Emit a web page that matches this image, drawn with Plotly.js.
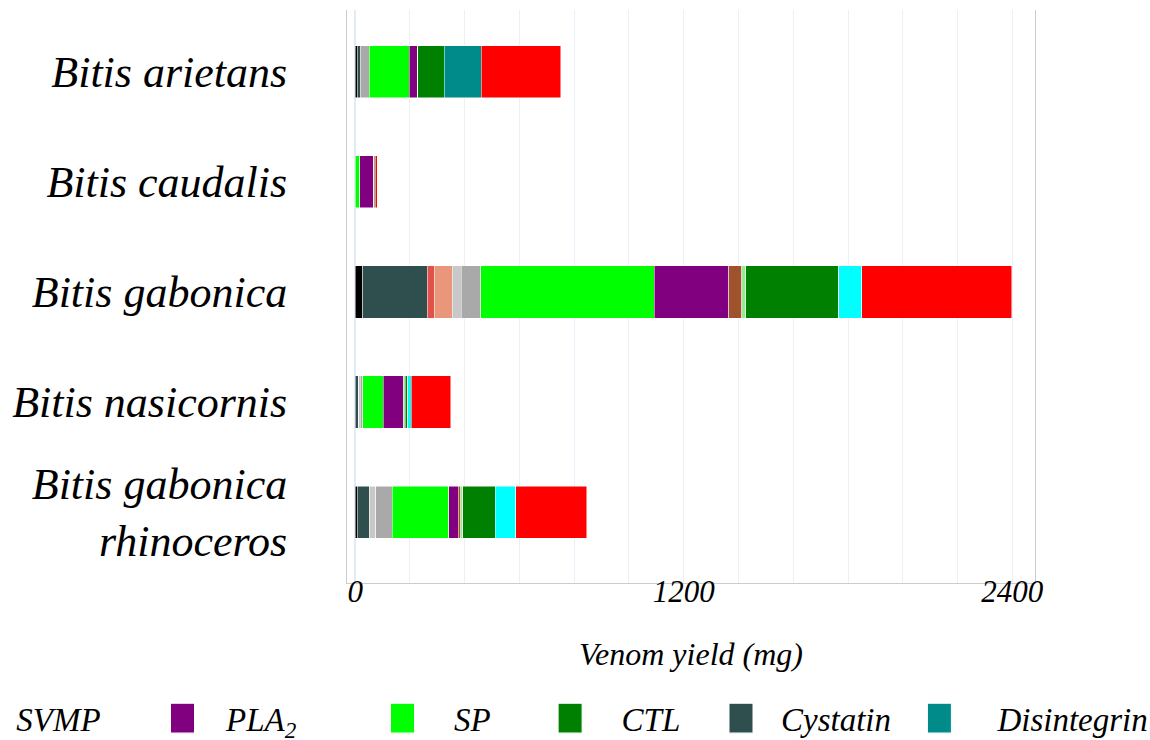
<!DOCTYPE html>
<html>
<head>
<meta charset="utf-8">
<script src="https://cdn.plot.ly/plotly-3.0.1.min.js"></script>
<style>
  html, body { margin: 0; padding: 0; background: #fff; }
  #chart { width: 1150px; height: 740px; }
</style>
</head>
<body>
<div id="chart"></div>
<script>
// ---------------- data ----------------
const species = ['Bitis arietans', 'Bitis caudalis', 'Bitis gabonica', 'Bitis nasicornis', 'Bitis gabonica rhinoceros'];
const speciesLabels = ['Bitis arietans', 'Bitis caudalis', 'Bitis gabonica', 'Bitis nasicornis', 'Bitis gabonica<br>rhinoceros'];

// venom yield (mg) per toxin family, in stacking order
const unknownYield     = [8, 0, 28, 0, 8];
const cystatinYield    = [10, 0, 236, 13, 43];
const laaoYield        = [0, 0, 24, 0, 0];
const kunYield         = [0, 0, 66, 0, 0];
const crispYield       = [0, 0, 33, 6, 24];
const vegfYield        = [34, 0, 71, 9, 61];
const spYield          = [146, 16, 634, 75, 206];
const pla2Yield        = [30, 51, 273, 72, 35];
const ngfYield         = [0, 0, 46, 0, 9];
const pdeYield         = [0, 3, 15, 7, 7];
const ctlYield         = [97, 3, 341, 10, 119];
const disintegrinYield = [136, 0, 0, 0, 0];
const dcYield          = [0, 0, 84, 13, 74];
const svmpYield        = [289, 8, 547, 144, 259];

const familyNames = ['Unknown', 'Cystatin', 'LAAO', 'KUN', 'CRISP', 'VEGF', 'SP', 'PLA<sub>2</sub>', 'NGF', 'PDE', 'CTL', 'Disintegrin', 'DC', 'SVMP'];
const familyValues = [unknownYield, cystatinYield, laaoYield, kunYield, crispYield, vegfYield, spYield, pla2Yield, ngfYield, pdeYield, ctlYield, disintegrinYield, dcYield, svmpYield];
const familyColors = ['#000000', '#2F4F4F', '#E0524B', '#E9967A', '#C8C8C8', '#A9A9A9', '#00FF00', '#800080', '#A0522D', '#90EE90', '#008000', '#008B8B', '#00FFFF', '#FF0000'];

const xTickVals = [0, 1200, 2400];
const xTickText = ['0', '1200', '2400'];

// ---------------- layout helpers ----------------
const FONT = 'Liberation Serif, Times New Roman, serif';
const PLOT_L = 347, PLOT_W = 688;
// visible legend entries: name -> [legend id, left edge px, itemwidth]
const legendSlots = {
  'SVMP':            ['legend',  -81.7, 88],
  'PLA<sub>2</sub>': ['legend2', 139,   77],
  'SP':              ['legend3', 351,   93],
  'CTL':             ['legend4', 518.6, 93],
  'Cystatin':        ['legend5', 701,   70],
  'Disintegrin':     ['legend6', 881.4, 106]
};

const traces = familyNames.map((name, i) => {
  const slot = legendSlots[name];
  return {
    type: 'bar',
    orientation: 'h',
    name: name,
    y: species,
    x: familyValues[i],
    marker: { color: familyColors[i], line: { color: 'white', width: 0.5 } },
    showlegend: !!slot,
    legend: slot ? slot[0] : 'legend',
    hovertemplate: '%{y}: %{x} mg<extra>' + name + '</extra>'
  };
});

const layout = {
  width: 1150,
  height: 740,
  margin: { l: 347, r: 115, t: 10, b: 157, autoexpand: false },
  paper_bgcolor: '#ffffff',
  plot_bgcolor: '#ffffff',
  barmode: 'stack',
  bargap: 0.525,
  font: { family: FONT, style: 'italic', color: '#000000' },
  xaxis: {
    range: [-30, 2483],
    tickvals: xTickVals,
    ticktext: xTickText,
    tickfont: { family: FONT, size: 31, style: 'italic', color: '#000000' },
    ticklabelstandoff: -19,
    showgrid: true,
    gridcolor: '#EBF0F8',
    minor: { dtick: 200, tick0: 0, showgrid: true, gridcolor: '#EBF0F8', gridwidth: 1 },
    zeroline: true,
    zerolinecolor: '#E3EAF6',
    zerolinewidth: 2,
    showline: true,
    linecolor: '#CCCCCC',
    linewidth: 1,
    mirror: false,
    ticks: '',
    title: { text: 'Venom yield (mg)', font: { family: FONT, size: 32, style: 'italic', color: '#000000' }, standoff: 34 },
    automargin: false
  },
  yaxis: {
    type: 'category',
    categoryarray: species,
    range: [4.643, -0.56],
    tickvals: species,
    ticktext: speciesLabels,
    tickfont: { family: FONT, size: 44, style: 'italic', color: '#000000' },
    ticklabelstandoff: 50,
    showgrid: false,
    zeroline: false,
    showline: true,
    linecolor: '#CCCCCC',
    linewidth: 1,
    mirror: true,
    ticks: '',
    automargin: false
  },
  showlegend: true
};

// one legend per visible entry so each sits where the reference has it
Object.keys(legendSlots).forEach(name => {
  const [id, leftPx, iw] = legendSlots[name];
  layout[id] = {
    orientation: 'h',
    x: (leftPx - PLOT_L) / PLOT_W,
    xanchor: 'left',
    y: -0.236,
    yanchor: 'middle',
    xref: 'paper',
    yref: 'paper',
    bgcolor: 'rgba(0,0,0,0)',
    borderwidth: 0,
    itemwidth: iw,
    font: { family: FONT, size: 33, style: 'italic', color: '#000000' }
  };
});

// enlarge the legend swatches (reference swatches are ~24 x 30 px)
function enlargeSwatches() {
  document.querySelectorAll('#chart .legendpoints path').forEach(p => {
    if (p.dataset.big) return;
    const t = p.getAttribute('transform') || '';
    const m = t.match(/translate\(\s*([-\d.]+)[ ,]+([-\d.]+)\s*\)/);
    const cx = m ? parseFloat(m[1]) : 20;
    const cy = m ? parseFloat(m[2]) : 0;
    p.setAttribute('transform', 'translate(' + cx + ',' + cy + ') scale(2,2.5)');
    p.style.transform = 'translate(' + cx + 'px,' + cy + 'px) scale(2,2.5)';
    p.dataset.big = '1';
  });
}

Plotly.newPlot('chart', traces, layout, { displayModeBar: false, responsive: false }).then(gd => {
  enlargeSwatches();
  gd.on('plotly_afterplot', enlargeSwatches);
});
</script>
</body>
</html>
